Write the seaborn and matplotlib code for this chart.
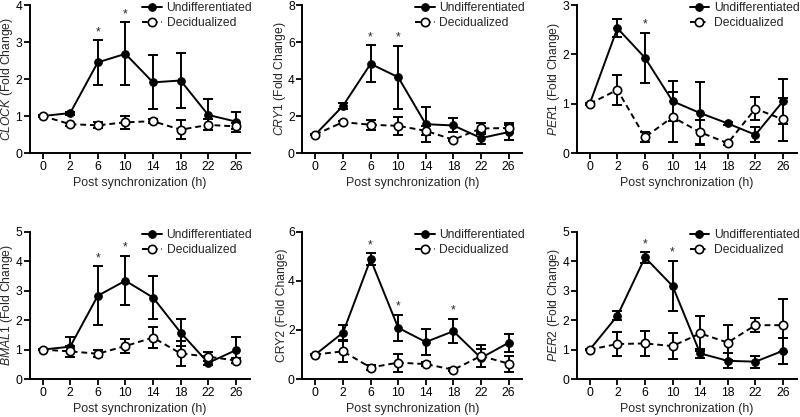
import numpy as np
import matplotlib
matplotlib.use('Agg')
import matplotlib.pyplot as plt
import seaborn as sns
import pandas as pd

sns.set_style("ticks")
plt.rcParams['font.family'] = ['Liberation Sans', 'DejaVu Sans']
plt.rcParams['mathtext.fontset'] = 'custom'
plt.rcParams['mathtext.it'] = 'Liberation Sans:italic'
plt.rcParams['mathtext.rm'] = 'Liberation Sans'

# time points (h)
hours = [0, 2, 6, 10, 14, 18, 22, 26]

# CLOCK
clock_und = [1.0, 1.08, 2.45, 2.68, 1.91, 1.96, 1.03, 0.85]
clock_und_err = [0.03, 0.04, 0.60, 0.85, 0.73, 0.74, 0.42, 0.27]
clock_dec = [1.0, 0.78, 0.75, 0.83, 0.86, 0.63, 0.76, 0.72]
clock_dec_err = [0.02, 0.04, 0.08, 0.17, 0.05, 0.25, 0.15, 0.08]
clock_stars = [6, 10]

# CRY1
cry1_und = [1.0, 2.55, 4.82, 4.10, 1.56, 1.49, 0.81, 1.13]
cry1_und_err = [0.05, 0.15, 1.0, 1.70, 0.95, 0.38, 0.30, 0.40]
cry1_dec = [1.0, 1.67, 1.53, 1.47, 1.20, 0.72, 1.33, 1.35]
cry1_dec_err = [0.03, 0.08, 0.28, 0.48, 0.25, 0.06, 0.30, 0.25]
cry1_stars = [6, 10]

# PER1
per1_und = [1.0, 2.53, 1.93, 1.05, 0.81, 0.60, 0.37, 1.05]
per1_und_err = [0.02, 0.18, 0.51, 0.41, 0.62, 0.03, 0.15, 0.46]
per1_dec = [1.0, 1.28, 0.32, 0.73, 0.42, 0.20, 0.90, 0.68]
per1_dec_err = [0.02, 0.31, 0.10, 0.50, 0.25, 0.03, 0.23, 0.44]
per1_stars = [6]

# BMAL1
bmal1_und = [1.0, 1.10, 2.83, 3.34, 2.77, 1.58, 0.55, 0.98]
bmal1_und_err = [0.03, 0.34, 1.0, 0.84, 0.74, 0.47, 0.08, 0.45]
bmal1_dec = [1.0, 0.94, 0.86, 1.12, 1.41, 0.87, 0.76, 0.63]
bmal1_dec_err = [0.02, 0.18, 0.12, 0.25, 0.35, 0.43, 0.15, 0.10]
bmal1_stars = [6, 10]

# CRY2
cry2_und = [1.0, 1.89, 4.88, 2.09, 1.51, 1.95, 0.86, 1.48]
cry2_und_err = [0.03, 0.33, 0.24, 0.54, 0.51, 0.50, 0.35, 0.37]
cry2_dec = [1.0, 1.13, 0.47, 0.67, 0.61, 0.38, 0.94, 0.63]
cry2_dec_err = [0.02, 0.45, 0.10, 0.37, 0.08, 0.07, 0.46, 0.33]
cry2_stars = [6, 10, 18]

# PER2
per2_und = [1.0, 2.15, 4.13, 3.16, 0.87, 0.62, 0.59, 0.96]
per2_und_err = [0.03, 0.15, 0.18, 0.86, 0.15, 0.25, 0.20, 0.45]
per2_dec = [1.0, 1.19, 1.21, 1.12, 1.55, 1.24, 1.83, 1.83]
per2_dec_err = [0.02, 0.41, 0.42, 0.45, 0.60, 0.60, 0.23, 0.90]
per2_stars = [6, 10]

panels = [
    ("CLOCK", True, clock_und, clock_und_err, clock_dec, clock_dec_err, clock_stars, 4, 1),
    ("CRY1", True, cry1_und, cry1_und_err, cry1_dec, cry1_dec_err, cry1_stars, 8, 2),
    ("PER1", True, per1_und, per1_und_err, per1_dec, per1_dec_err, per1_stars, 3, 1),
    ("BMAL1", True, bmal1_und, bmal1_und_err, bmal1_dec, bmal1_dec_err, bmal1_stars, 5, 1),
    ("CRY2", False, cry2_und, cry2_und_err, cry2_dec, cry2_dec_err, cry2_stars, 6, 2),
    ("PER2", True, per2_und, per2_und_err, per2_dec, per2_dec_err, per2_stars, 5, 1),
]

# axes placement in figure fractions (left, bottom, width, height)
lefts = [0.037, 0.378, 0.721]
rows = [(0.633, 0.355), (0.091, 0.353)]

fig = plt.figure(figsize=(8, 4.17), dpi=100)
FS = 8.7
pos = np.arange(len(hours))

for i, (gene, italic, und, und_err, dec, dec_err, stars, ymax, ystep) in enumerate(panels):
    b, h = rows[i // 3]
    ax = fig.add_axes([lefts[i % 3], b, 0.275, h])

    df = pd.DataFrame({'pos': pos, 'und': und, 'dec': dec})

    ax.errorbar(pos, und, yerr=und_err, fmt='none', ecolor='black',
                elinewidth=1.4, capsize=3.3, capthick=1.4, zorder=2)
    ax.errorbar(pos, dec, yerr=dec_err, fmt='none', ecolor='black',
                elinewidth=1.4, capsize=3.3, capthick=1.4, zorder=2)
    sns.lineplot(data=df, x='pos', y='und', ax=ax, color='black', lw=1.4,
                 marker='o', markersize=5.5, markeredgecolor='black',
                 label='Undifferentiated', legend=False, zorder=3)
    sns.lineplot(data=df, x='pos', y='dec', ax=ax, color='black', lw=1.4,
                 linestyle=(0, (3.0, 2.0)), marker='o', markersize=6,
                 markerfacecolor='white', markeredgecolor='black',
                 markeredgewidth=1.2, label='Decidualized', legend=False, zorder=4)

    for s in stars:
        k = hours.index(s)
        ax.annotate('*', (k, und[k] + und_err[k]), xytext=(0, 1.5),
                    textcoords='offset points', ha='center', va='bottom',
                    fontsize=FS)

    ax.set_xlim(-0.47, 7.5)
    ax.set_ylim(0, ymax)
    ax.set_xticks(pos)
    ax.set_xticklabels([str(v) for v in hours], fontsize=FS)
    yt = np.arange(0, ymax + 0.01, ystep)
    ax.set_yticks(yt)
    ax.set_yticklabels([str(int(v)) for v in yt], fontsize=FS)
    ax.set_xlabel('Post synchronization (h)', fontsize=FS + 0.2, labelpad=3)
    if italic:
        ax.set_ylabel(r'$\it{' + gene + r'}$ (Fold Change)', fontsize=FS, labelpad=0)
    else:
        ax.set_ylabel(gene + ' (Fold Change)', fontsize=FS, labelpad=0)
    ax.tick_params(direction='out', length=4, width=1.3, colors='black', pad=1.5)
    for sp in ['left', 'bottom']:
        ax.spines[sp].set_linewidth(1.4)
        ax.spines[sp].set_color('black')
    sns.despine(ax=ax)

    hs = [l for l in ax.get_lines() if l.get_label() in ('Undifferentiated', 'Decidualized')]
    ax.legend(handles=hs, labels=['Undifferentiated', 'Decidualized'],
              loc='upper right', bbox_to_anchor=(1.04, 1.06), frameon=False,
              fontsize=FS, handlelength=1.6, handletextpad=0.4,
              labelspacing=0.25, borderpad=0)

fig.savefig('out.png', dpi=100)
